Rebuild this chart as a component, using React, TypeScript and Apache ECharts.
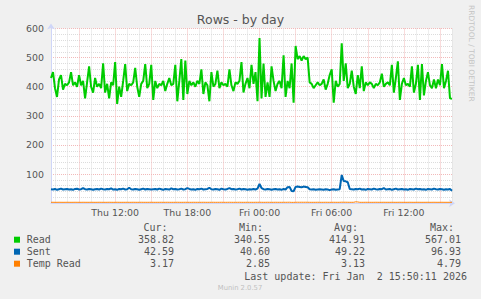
import React, { useEffect, useRef } from 'react';
import * as echarts from 'echarts';

// Time is in minutes since Thu 00:00; samples every 10 minutes from Thu 06:40 to Fri 16:00
const startMinute = 400;
const stepMinutes = 10;
const endMinute = 2400;

const readValues = [
  430, 450, 395, 365, 425, 440, 390, 410, 405, 415,
  450, 405, 415, 400, 440, 405, 420, 360, 415, 470,
  400, 380, 430, 400, 410, 395, 480, 380, 410, 360,
  415, 405, 485, 341, 400, 365, 420, 478, 385, 410,
  405, 415, 465, 400, 365, 410, 420, 478, 395, 410,
  475, 355, 420, 395, 410, 405, 420, 385, 410, 430,
  405, 410, 475, 350, 420, 495, 355, 490, 375, 420,
  405, 415, 400, 420, 410, 460, 375, 415, 405, 350,
  450, 400, 410, 455, 395, 415, 405, 410, 400, 460,
  405, 385, 415, 410, 420, 485, 380, 410, 430, 395,
  475, 410, 450, 350, 567, 360, 480, 365, 415, 365,
  470, 420, 385, 410, 420, 395, 508, 365, 420, 395,
  480, 345, 540, 495, 505, 490, 505, 495, 500, 415,
  410, 395, 405, 415, 405, 410, 425, 390, 410, 440,
  460, 345, 420, 400, 410, 549, 420, 480, 395, 410,
  455, 400, 375, 440, 395, 470, 385, 415, 405, 415,
  410, 395, 410, 405, 415, 445, 400, 410, 415, 405,
  475, 380, 430, 487, 355, 410, 430, 405, 410, 400,
  470, 380, 410, 475, 355, 478, 370, 420, 450, 405,
  395, 425, 395, 425, 405, 478, 395, 420, 455, 360,
  358.82,
];

const sentValues = [
  48, 47, 49, 46, 48, 50, 47, 48, 49, 47,
  48, 46, 49, 50, 47, 48, 52, 48, 47, 49,
  48, 46, 48, 49, 47, 50, 48, 47, 49, 48,
  51, 47, 48, 46, 49, 48, 50, 47, 48, 53,
  48, 47, 49, 48, 46, 48, 50, 47, 49, 48,
  47, 48, 49, 47, 50, 48, 46, 49, 48, 47,
  51, 48, 49, 47, 48, 50, 47, 48, 52, 49,
  47, 48, 46, 49, 48, 50, 47, 48, 49, 53,
  48, 47, 49, 48, 46, 50, 48, 47, 49, 52,
  48, 49, 47, 48, 50, 47, 49, 48, 46, 48,
  47, 49, 47, 50, 66, 52, 48, 47, 49, 48,
  46, 48, 49, 47, 48, 46, 49, 47, 55, 56,
  42, 41, 56, 57, 56, 55, 57, 56, 55, 48,
  47, 48, 46, 47, 48, 47, 46, 48, 47, 45,
  47, 48, 46, 47, 48, 96.93, 76, 75, 72, 49,
  48, 47, 49, 48, 50, 47, 48, 46, 49, 48,
  47, 50, 48, 47, 49, 48, 52, 47, 48, 49,
  46, 48, 50, 47, 48, 49, 47, 48, 46, 49,
  48, 47, 50, 48, 49, 47, 48, 46, 49, 48,
  47, 50, 48, 47, 49, 48, 46, 48, 47, 49,
  42.59,
];

const tempReadValues = [
  3.1, 3.2, 3.0, 3.1, 3.2, 3.1, 3.0, 3.1, 3.2, 3.1,
  3.0, 3.1, 3.2, 3.1, 3.1, 3.0, 3.2, 3.1, 3.1, 3.0,
  3.2, 3.1, 3.0, 3.1, 3.2, 3.1, 3.1, 3.0, 3.1, 3.2,
  3.1, 3.0, 3.1, 3.2, 3.1, 3.0, 3.1, 3.1, 3.2, 3.0,
  3.1, 3.2, 3.1, 3.0, 3.1, 3.2, 3.1, 3.1, 3.0, 3.1,
  3.2, 3.1, 3.0, 3.1, 3.1, 3.2, 3.0, 3.1, 3.2, 3.1,
  3.0, 3.1, 3.1, 3.2, 3.1, 3.0, 3.1, 3.2, 3.1, 3.1,
  3.0, 3.2, 3.1, 3.1, 3.0, 3.1, 3.2, 3.1, 3.0, 3.1,
  3.1, 3.2, 3.0, 3.1, 3.1, 3.2, 3.1, 3.0, 3.1, 3.2,
  3.1, 3.0, 3.1, 3.1, 3.2, 3.1, 3.0, 3.1, 3.2, 3.1,
  3.1, 3.0, 3.2, 3.1, 3.3, 3.1, 3.0, 3.1, 3.2, 3.1,
  3.0, 3.1, 3.2, 3.1, 3.1, 3.0, 3.2, 3.1, 3.2, 3.3,
  2.85, 2.9, 3.2, 3.3, 3.2, 3.3, 3.2, 3.3, 3.2, 3.1,
  3.0, 3.1, 3.1, 3.2, 3.1, 3.0, 3.1, 3.2, 3.1, 3.0,
  3.1, 3.2, 3.1, 3.0, 3.1, 3.4, 3.3, 3.3, 3.2, 3.1,
  3.1, 3.2, 4.79, 4.2, 3.1, 3.0, 3.1, 3.2, 3.1, 3.1,
  3.0, 3.1, 3.2, 3.1, 3.0, 3.1, 3.2, 3.1, 3.1, 3.0,
  3.2, 3.1, 3.0, 3.1, 3.2, 3.1, 3.1, 3.0, 3.1, 3.2,
  3.1, 3.0, 3.1, 3.2, 3.1, 3.0, 3.1, 3.1, 3.2, 3.0,
  3.1, 3.2, 3.1, 3.0, 3.1, 3.2, 3.1, 3.1, 3.0, 3.1,
  3.17,
];

const xTickValues = [720, 1080, 1440, 1800, 2160];
const xTickLabels = ['Thu 12:00', 'Thu 18:00', 'Fri 00:00', 'Fri 06:00', 'Fri 12:00'];
const yTickValues = [100, 200, 300, 400, 500, 600];

const seriesNames = ['Read', 'Sent', 'Temp Read'];
const seriesColors = ['#00cc00', '#0066b3', '#ff8000'];
const statHeaders = ['Cur:', 'Min:', 'Avg:', 'Max:'];
const statRows = [
  ['358.82', '340.55', '414.91', '567.01'],
  ['42.59', '40.60', '49.22', '96.93'],
  ['3.17', '2.85', '3.13', '4.79'],
];
const lastUpdate = 'Last update: Fri Jan  2 15:50:11 2026';

const toPairs = (vals: number[]) => vals.map((v, i) => [startMinute + i * stepMinutes, v]);

const NONE = 'rgba(0,0,0,0)';
const MINOR = '#dcdcdc';
const MAJOR = '#f2b9b9';

export default function App() {
  const ref = useRef<HTMLDivElement>(null);
  useEffect(() => {
    if (!ref.current) return;
    const chart = echarts.init(ref.current, null, { renderer: 'svg' });
    const mono = '"DejaVu Sans Mono", monospace';
    const sans = '"DejaVu Sans", sans-serif';
    const textColor = '#555';
    const colX = [174, 270, 365, 461];
    const headX = [167.5, 263, 358, 454];
    const rowY = [239.7, 251.7, 263.7];

    const graphics: any[] = [
      {
        type: 'text', left: 'center', top: 12.5,
        style: { text: 'Rows - by day', font: `12.5px ${sans}`, fill: '#555' },
      },
      {
        type: 'text', x: 475.5, y: 5, rotation: -Math.PI / 2,
        style: { text: 'RRDTOOL / TOBI OETIKER', font: `7.5px ${sans}`, fill: '#c4c4c4', textAlign: 'left', textVerticalAlign: 'top' },
      },
      {
        type: 'text', x: 240, y: 287.7,
        style: { text: 'Munin 2.0.57', font: `6.8px ${sans}`, fill: '#c0c0c0', textAlign: 'center', textVerticalAlign: 'middle' },
      },
      {
        type: 'text', x: 467, y: 276,
        style: { text: lastUpdate, font: `10px ${mono}`, fill: textColor, textAlign: 'right', textVerticalAlign: 'middle' },
      },
    ];
    statHeaders.forEach((h, j) => {
      graphics.push({
        type: 'text', x: headX[j], y: 227.5,
        style: { text: h, font: `10px ${mono}`, fill: textColor, textAlign: 'right', textVerticalAlign: 'middle' },
      });
    });
    seriesNames.forEach((name, r) => {
      graphics.push({
        type: 'rect', shape: { x: 14, y: rowY[r] - 3, width: 6, height: 6 },
        style: { fill: seriesColors[r] },
      });
      graphics.push({
        type: 'text', x: 26.7, y: rowY[r],
        style: { text: name, font: `10px ${mono}`, fill: textColor, textAlign: 'left', textVerticalAlign: 'middle' },
      });
      statRows[r].forEach((val, j) => {
        graphics.push({
          type: 'text', x: colX[j], y: rowY[r],
          style: { text: val, font: `10px ${mono}`, fill: textColor, textAlign: 'right', textVerticalAlign: 'middle' },
        });
      });
    });

    const xColors = [NONE, MINOR, NONE, NONE, MINOR, NONE, NONE, MAJOR, NONE];
    const yColors = [MAJOR, MINOR, MINOR, MINOR, MINOR];

    chart.setOption({
      animation: false,
      backgroundColor: '#f0f0f0',
      grid: {
        show: true, backgroundColor: '#ffffff', borderWidth: 0,
        left: 51, right: 29, top: 28.5, bottom: 95.8,
      },
      xAxis: {
        type: 'value', min: startMinute, max: endMinute, interval: 20,
        axisLine: {
          show: true, lineStyle: { color: '#cfd6f8', width: 1 },
          symbol: ['none', 'arrow'], symbolSize: [6, 6], symbolOffset: [0, 3],
        },
        axisTick: { show: false },
        axisLabel: {
          margin: 4.5, color: textColor, fontFamily: sans, fontSize: 9.4,
          formatter: (v: number) => {
            const k = xTickValues.indexOf(v);
            return k >= 0 ? xTickLabels[k] : '';
          },
        },
        splitLine: { show: true, lineStyle: { color: xColors, type: [1, 1], width: 1 } },
      },
      yAxis: {
        type: 'value', min: 0, max: 600, interval: 20,
        axisLine: {
          show: true, lineStyle: { color: '#cfd6f8', width: 1 },
          symbol: ['none', 'arrow'], symbolSize: [6, 6], symbolOffset: [0, 5],
        },
        axisTick: { show: false },
        axisLabel: {
          margin: 7, color: textColor, fontFamily: sans, fontSize: 9.4,
          formatter: (v: number) => (yTickValues.indexOf(v) >= 0 ? String(v) : ''),
        },
        splitLine: { show: true, lineStyle: { color: yColors, type: [1, 1], width: 1 } },
      },
      series: [
        { name: seriesNames[0], type: 'line', data: toPairs(readValues), showSymbol: false, lineStyle: { color: seriesColors[0], width: 2 }, itemStyle: { color: seriesColors[0] } },
        { name: seriesNames[1], type: 'line', data: toPairs(sentValues), showSymbol: false, lineStyle: { color: seriesColors[1], width: 2 }, itemStyle: { color: seriesColors[1] } },
        { name: seriesNames[2], type: 'line', data: toPairs(tempReadValues), showSymbol: false, lineStyle: { color: seriesColors[2], width: 1 }, itemStyle: { color: seriesColors[2] } },
      ],
      graphic: graphics,
    });
    return () => chart.dispose();
  }, []);
  return <div ref={ref} style={{ position: 'fixed', left: 0, top: 0, width: 481, height: 299 }} />;
}
